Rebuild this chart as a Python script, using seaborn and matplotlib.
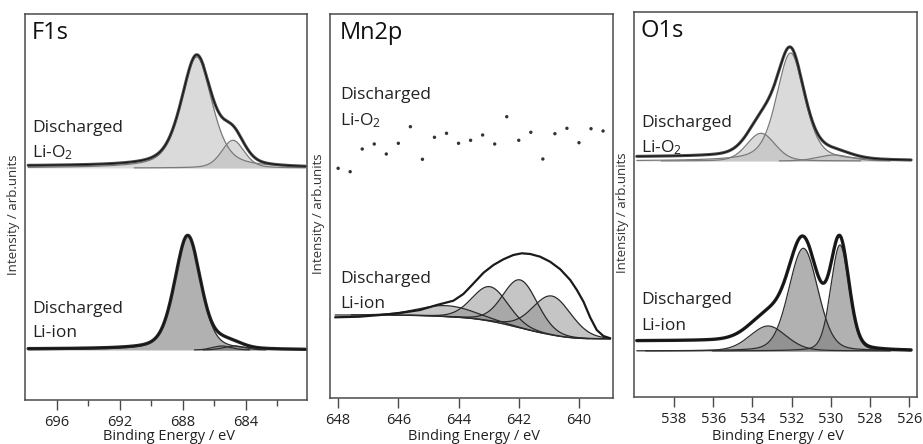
import numpy as np
import pandas as pd
import matplotlib
matplotlib.use("Agg")
import matplotlib.pyplot as plt
import seaborn as sns

# ---------------- data ----------------
# F1s, Discharged Li-O2 (upper) : pseudo-Voigt components
f1s_o2_base = 232.0
f1s_o2_centers = [687.1, 684.8]
f1s_o2_heights = [111.0, 27.7]
f1s_o2_fwhm = [2.3, 1.7]
f1s_o2_eta = [0.5, 0.3]
f1s_o2_step = 2.0
# F1s, Discharged Li-ion (lower)
f1s_ion_base = 50.0
f1s_ion_centers = [687.67, 685.5, 684.7]
f1s_ion_heights = [114.0, 4.0, 4.0]
f1s_ion_fwhm = [1.95, 1.4, 1.6]
f1s_ion_eta = [0.35, 0.2, 0.2]
f1s_ion_step = 1.0
f1s_range = (697.8, 680.2)
f1s_xlim = (698.0, 680.1)
f1s_major = [696, 692, 688, 684]
f1s_minor = [694, 690, 686, 682]

# Mn2p, Discharged Li-O2 (upper): individual points
mn_o2_energy = [648.0, 647.6, 647.2, 646.8, 646.4, 646.0, 645.6, 645.2, 644.8, 644.4, 644.0, 643.6,
                643.2, 642.8, 642.4, 642.0, 641.6, 641.2, 640.8, 640.4, 640.0, 639.6, 639.2]
mn_o2_counts = [229.7, 226.3, 249.0, 254.0, 244.0, 254.7, 271.3, 238.7, 260.7, 264.7, 254.7, 257.7,
                263.0, 254.0, 281.3, 257.7, 265.7, 239.0, 264.3, 269.7, 255.3, 269.3, 267.0]
# Mn2p, Discharged Li-ion (lower): measured envelope
mn_ion_energy = [648.1, 647.3, 646.6, 646.0, 645.28, 644.72, 644.17, 643.84, 643.50, 643.17, 642.84,
                 642.51, 642.18, 641.90, 641.62, 641.29, 640.96, 640.62, 640.29, 640.07, 639.85,
                 639.63, 639.41, 639.19, 638.96]
mn_ion_counts = [80.7, 81.3, 83.0, 84.7, 88.0, 93.0, 97.3, 104.0, 114.7, 125.3, 133.0, 138.7, 143.0,
                 144.7, 144.0, 141.3, 136.3, 128.7, 118.0, 108.0, 96.3, 80.7, 68.0, 62.0, 59.7]
mn_ion_centers = [644.4, 642.95, 641.95, 640.9]
mn_ion_heights = [11.0, 34.5, 48.0, 39.0]
mn_ion_fwhm = [2.2, 1.4, 1.35, 1.5]
mn_ion_eta = [0.1, 0.1, 0.1, 0.1]
mn_bg_low, mn_bg_high = 59.0, 83.0
mn_range = (648.1, 638.96)
mn_xlim = (648.27, 638.87)
mn_major = [648, 646, 644, 642, 640]

# O1s, Discharged Li-O2 (upper)
o1s_o2_base = 236.0
o1s_o2_centers = [533.56, 532.05, 529.8]
o1s_o2_heights = [27.7, 108.0, 6.0]
o1s_o2_fwhm = [1.7, 1.7, 2.0]
o1s_o2_eta = [0.2, 0.45, 0.2]
o1s_o2_step = 4.0
# O1s, Discharged Li-ion (lower)
o1s_ion_base = 46.0
o1s_ion_centers = [533.2, 531.4, 529.53]
o1s_ion_heights = [25.0, 102.7, 106.0]
o1s_ion_fwhm = [2.2, 1.75, 1.1]
o1s_ion_eta = [0.2, 0.2, 0.2]
o1s_ion_step = 10.0
o1s_range = (539.9, 525.9)
o1s_xlim = (540.04, 525.6)
o1s_major = [538, 536, 534, 532, 530, 528, 526]

titles = ["F1s", "Mn2p", "O1s"]
label_top = ["Discharged", "Li-O$_2$"]
label_bot = ["Discharged", "Li-ion"]
xlabel = "Binding Energy / eV"
ylabel = "Intensity / arb.units"


# ---------------- helpers ----------------
def pvoigt(E, c, h, w, eta):
    x = (E - c) / w
    return h * ((1 - eta) * np.exp(-4 * np.log(2) * x ** 2) + eta / (1 + 4 * x ** 2))


def comps(E, centers, heights, fwhm, eta):
    return [pvoigt(E, c, h, w, e) for c, h, w, e in zip(centers, heights, fwhm, eta)]


def shirley_frac(E, total):
    # E ascending; fraction of area below E
    s = np.cumsum(total)
    return s / s[-1]


sns.set_theme(style="ticks")
plt.rcParams["font.family"] = ["Open Sans", "DejaVu Sans"]
plt.rcParams["mathtext.fontset"] = "custom"
plt.rcParams["mathtext.rm"] = "Open Sans"
plt.rcParams["mathtext.it"] = "Open Sans"

W, H = 923, 444
fig = plt.figure(figsize=(W / 100, H / 100), dpi=100)
boxes = [(25, 307, 14, 400), (330, 613, 14, 398), (634, 917, 12, 397)]
axes = []
for (x0, x1, y0, y1) in boxes:
    ax = fig.add_axes([x0 / W, 1 - y1 / H, (x1 - x0) / W, (y1 - y0) / H])
    axes.append(ax)

spine_col = "#4a4a4a"
narrow = ["Liberation Sans Narrow", "Open Sans", "DejaVu Sans"]

up_fill, up_alpha, up_line = "#bcbcbc", 0.55, "#7a7a7a"
lo_fill, lo_alpha, lo_line = "#7e7e7e", 0.6, "#2e2e2e"


def draw_fit(ax, rng, base, centers, heights, fwhm, eta, step, fill, alpha, lcol, dcol, dlw):
    E = np.linspace(min(rng), max(rng), 900)
    cs = comps(E, centers, heights, fwhm, eta)
    tot = np.sum(cs, axis=0)
    env = base + tot + step * shirley_frac(E, tot)
    for c in cs:
        m = c > 0.15
        ax.fill_between(E[m], base, base + c[m], color=fill, alpha=alpha, lw=0)
    for c in cs:
        m = c > 0.15
        sns.lineplot(x=E[m], y=base + c[m], ax=ax, color=lcol, lw=0.9, estimator=None, sort=False)
    sns.lineplot(x=E, y=env, ax=ax, color=dcol, lw=dlw, estimator=None, sort=False)
    sns.lineplot(x=E, y=env, ax=ax, color="#111111", lw=0.7, estimator=None, sort=False)


# ---- F1s ----
ax = axes[0]
draw_fit(ax, f1s_range, f1s_o2_base, f1s_o2_centers, f1s_o2_heights, f1s_o2_fwhm, f1s_o2_eta,
         f1s_o2_step, up_fill, up_alpha, up_line, "#4a4a4a", 2.2)
draw_fit(ax, f1s_range, f1s_ion_base, f1s_ion_centers, f1s_ion_heights, f1s_ion_fwhm, f1s_ion_eta,
         f1s_ion_step, lo_fill, lo_alpha, lo_line, "#262626", 2.4)
ax.set_xlim(*f1s_xlim)
ax.set_xticks(f1s_major)
ax.set_xticks(f1s_minor, minor=True)

# ---- Mn2p ----
ax = axes[1]
sns.scatterplot(x=mn_o2_energy, y=mn_o2_counts, ax=ax, color="#333333", s=6, marker="o",
                edgecolor="none")
E = np.linspace(min(mn_range), max(mn_range), 900)
cs = comps(E, mn_ion_centers, mn_ion_heights, mn_ion_fwhm, mn_ion_eta)
tot = np.sum(cs, axis=0)
bg = mn_bg_low + (mn_bg_high - mn_bg_low) * shirley_frac(E, tot)
for c in cs:
    m = c > 0.15
    ax.fill_between(E[m], bg[m], bg[m] + c[m], color="#8c8c8c", alpha=0.5, lw=0)
for c in cs:
    m = c > 0.15
    sns.lineplot(x=E[m], y=bg[m] + c[m], ax=ax, color="#2a2a2a", lw=0.9, estimator=None, sort=False)
sns.lineplot(x=E, y=bg, ax=ax, color="#2a2a2a", lw=0.9, estimator=None, sort=False)
sns.lineplot(x=mn_ion_energy, y=mn_ion_counts, ax=ax, color="#1a1a1a", lw=1.6, estimator=None,
             sort=False)
ax.set_xlim(*mn_xlim)
ax.set_xticks(mn_major)

# ---- O1s ----
ax = axes[2]
draw_fit(ax, o1s_range, o1s_o2_base, o1s_o2_centers, o1s_o2_heights, o1s_o2_fwhm, o1s_o2_eta,
         o1s_o2_step, up_fill, up_alpha, up_line, "#4a4a4a", 2.2)
draw_fit(ax, o1s_range, o1s_ion_base, o1s_ion_centers, o1s_ion_heights, o1s_ion_fwhm, o1s_ion_eta,
         o1s_ion_step, lo_fill, lo_alpha, lo_line, "#1e1e1e", 2.4)
ax.set_xlim(*o1s_xlim)
ax.set_xticks(o1s_major)

# ---- common styling & texts ----
text_pos = [  # (x_px, title_y, top lines y, bottom lines y)
    (32, 33, (128, 153), (309, 333)),
    (340, 33, (95, 121), (279, 304)),
    (641, 31, (123, 148), (300, 326)),
]
for ax, (x0, x1, y0, y1), title, (tx, tty, tops, bots) in zip(axes, boxes, titles, text_pos):
    hgt = y1 - y0
    ax.set_ylim(0, hgt)
    ax.set_yticks([])
    for s in ax.spines.values():
        s.set_visible(True)
        s.set_color(spine_col)
        s.set_linewidth(1.1)
    ax.tick_params(axis="x", which="major", direction="out", length=7, width=1.0, color=spine_col,
                   pad=4, labelsize=10.5, labelcolor="#222222")
    ax.tick_params(axis="x", which="minor", direction="out", length=4.5, width=1.0, color=spine_col)
    for lab in ax.get_xticklabels():
        lab.set_family(narrow)
    ax.set_xlabel(xlabel, family=narrow, fontsize=10.5, color="#222222")
    ax.xaxis.set_label_coords(0.51, -(429 - y1) / hgt)
    ax.xaxis.label.set_va("top")
    ax.set_ylabel(ylabel, fontsize=9.5, color="#333333")
    ax.yaxis.set_label_coords(-5 / (x1 - x0), 0.48)
    fx = (tx - x0) / (x1 - x0)
    ax.text(fx, (y1 - tty) / hgt, title, transform=ax.transAxes, fontsize=17, va="center",
            ha="left", color="#111111")
    for txt, yy in zip(label_top, tops):
        ax.text(fx, (y1 - yy) / hgt, txt, transform=ax.transAxes, fontsize=12.5, va="center",
                ha="left", color="#222222")
    for txt, yy in zip(label_bot, bots):
        ax.text(fx, (y1 - yy) / hgt, txt, transform=ax.transAxes, fontsize=12.5, va="center",
                ha="left", color="#222222")

fig.savefig("out.png", dpi=100, facecolor="white")
